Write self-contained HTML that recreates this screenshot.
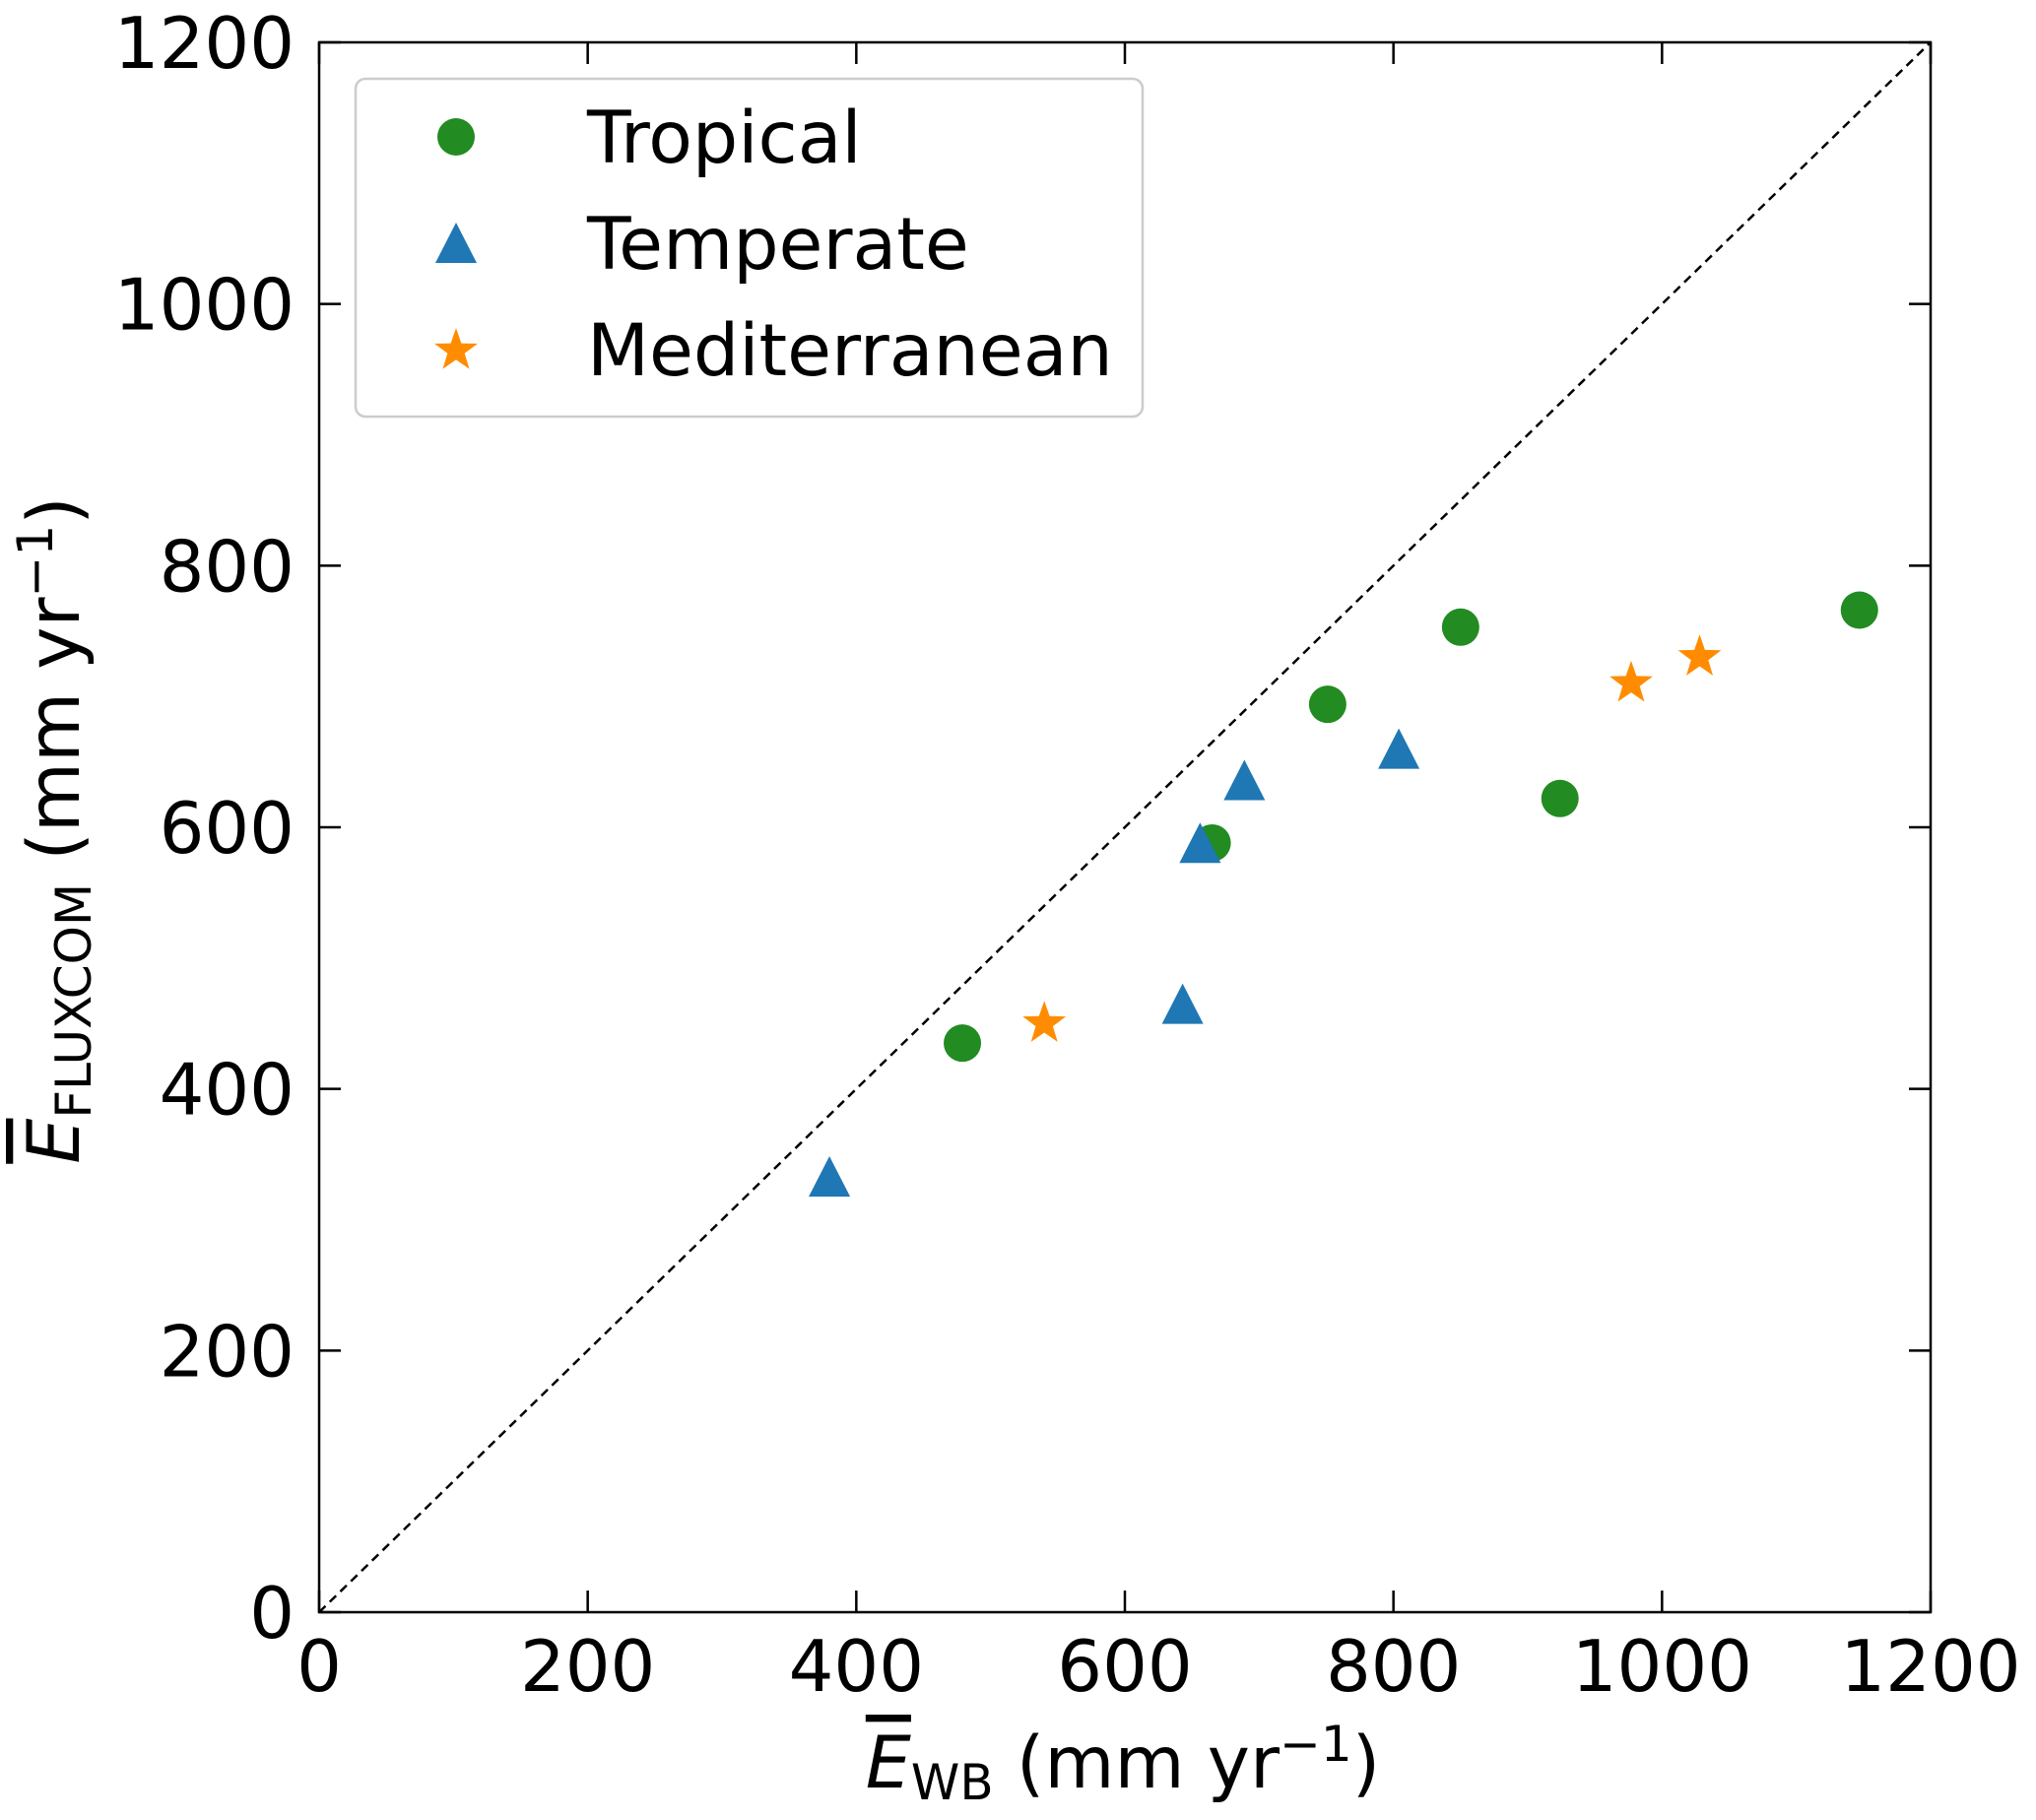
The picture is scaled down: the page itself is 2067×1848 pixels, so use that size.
<!DOCTYPE html>
<html><head><meta charset="utf-8"><style>body{margin:0;background:#fff}svg{display:block}text{font-family:"DejaVu Sans","Liberation Sans",sans-serif;fill:#000}</style></head>
<body>
<svg id="chart" width="2067" height="1848" viewBox="0 0 2067 1848" xmlns="http://www.w3.org/2000/svg">
<rect width="2067" height="1848" fill="#fff"/>
<line x1="324" y1="1637" x2="1960" y2="43" stroke="#000" stroke-width="2.5" stroke-dasharray="9,6"/>
<g id="ticks"></g>
<g id="marks"></g>
<rect x="324" y="43" width="1636" height="1594" fill="none" stroke="#000" stroke-width="2.5"/>
<g>
<rect x="361" y="80" width="799" height="343" rx="10" fill="#fff" fill-opacity="0.85" stroke="#ccc" stroke-width="2.5"/>
<circle cx="463" cy="139" r="19" fill="#228b22"/>
<text x="596" y="165" font-size="73">Tropical</text>
<polygon points="463,226 484,267 442,267" fill="#1f77b4"/>
<text x="596" y="273" font-size="73">Temperate</text>
<polygon id="legstar" fill="#ff8c00"/>
<text x="596" y="381" font-size="73">Mediterranean</text>
</g>
<text x="1140" y="1815" font-size="73" text-anchor="middle"><tspan font-style="italic" text-decoration="overline">E</tspan><tspan font-size="50" dy="12">WB</tspan><tspan dy="-12"> (mm yr</tspan><tspan font-size="50" dy="-27">−1</tspan><tspan dy="27">)</tspan></text>
<text transform="translate(80,843) rotate(-90)" font-size="73" text-anchor="middle"><tspan font-style="italic" text-decoration="overline">E</tspan><tspan font-size="50" dy="12">FLUXCOM</tspan><tspan dy="-12"> (mm yr</tspan><tspan font-size="50" dy="-27">−1</tspan><tspan dy="27">)</tspan></text>
</svg>
<script>
const tickValues = [0, 200, 400, 600, 800, 1000, 1200];
const tropicalX = [479, 665, 751, 850, 924, 1147];
const tropicalY = [435, 588, 694, 753, 622, 766];
const temperateX = [380, 656, 643, 689, 804];
const temperateY = [332, 587, 464, 635, 659];
const medX = [540, 977, 1028];
const medY = [450, 710, 730];
const NS = 'http://www.w3.org/2000/svg';
const xs = v => 324 + v * (1636 / 1200);
const ys = v => 1637 - v * (1594 / 1200);
function mk(tag, attrs, parent){const e=document.createElementNS(NS,tag);for(const k in attrs)e.setAttribute(k,attrs[k]);parent.appendChild(e);return e;}
function starPts(cx, cy, R){const r=R*0.4;let p=[];for(let i=0;i<10;i++){const a=-Math.PI/2+i*Math.PI/5;const rr=i%2?r:R;p.push((cx+rr*Math.cos(a)).toFixed(1)+','+(cy+rr*Math.sin(a)).toFixed(1));}return p.join(' ');}
document.getElementById('legstar').setAttribute('points', starPts(463, 356, 23));
const tg = document.getElementById('ticks');
tickValues.forEach(v => {
  const x = xs(v), y = ys(v);
  let t;
  t = mk('line',{x1:x,y1:1637,x2:x,y2:1615,stroke:'#000','stroke-width':2.5},tg);
   
  t = mk('line',{x1:x,y1:43,x2:x,y2:65,stroke:'#000','stroke-width':2.5},tg);
   
  t = mk('line',{x1:324,y1:y,x2:346,y2:y,stroke:'#000','stroke-width':2.5},tg);
   
  t = mk('line',{x1:1960,y1:y,x2:1938,y2:y,stroke:'#000','stroke-width':2.5},tg);
   
  t = mk('text',{x:x,y:1717,'font-size':72,'text-anchor':'middle'},tg);
  t.textContent = v;
   
  t = mk('text',{x:299,y:y+26,'font-size':72,'text-anchor':'end'},tg);
  t.textContent = v;
   
});
const mg = document.getElementById('marks');
tropicalX.forEach((v,i) => {
  const c = mk('circle',{cx:xs(v),cy:ys(tropicalY[i]),r:19,fill:'#228b22'},mg);
   
});
temperateX.forEach((v,i) => {
  const x = xs(v), y = ys(temperateY[i]);
  const p = mk('polygon',{points:`${x},${y-22} ${x+21},${y+19} ${x-21},${y+19}`,fill:'#1f77b4'},mg);
   
});
medX.forEach((v,i) => {
  const p = mk('polygon',{points:starPts(xs(v),ys(medY[i]),23),fill:'#ff8c00'},mg);
   
});
</script>
</body></html>
